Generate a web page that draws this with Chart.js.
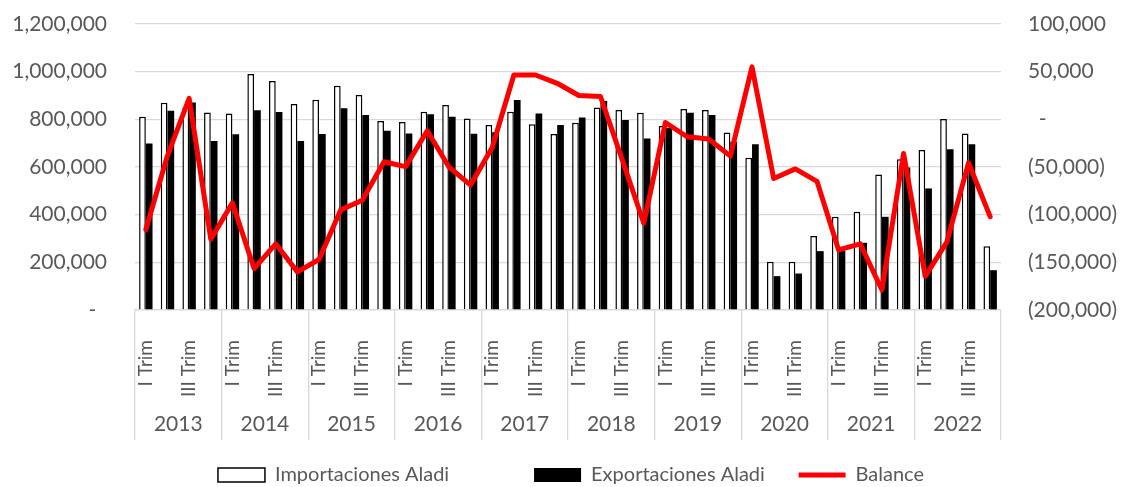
<!DOCTYPE html>
<html>
<head>
<meta charset="utf-8">
<script src="https://cdn.jsdelivr.net/npm/chart.js@4.4.1/dist/chart.umd.min.js"></script>
<style>
  body { margin: 0; background: #fff; }
  #wrap { width: 1122px; height: 487px; }
</style>
</head>
<body>
<div id="wrap"><canvas id="myChart"></canvas></div>
<script>
// años y trimestres
var years = ['2013', '2014', '2015', '2016', '2017', '2018', '2019', '2020', '2021', '2022']
var quarterNames = ['I Trim', 'II Trim', 'III Trim', 'IV Trim']

var importaciones = [
    811000, 870000, 850000, 829000,
    824000, 990000, 961000, 864000,
    882000, 941000, 902000, 793000,
    789000, 832000, 860000, 804000,
    776000, 832000, 779000, 738000,
    786000, 850000, 839000, 828000,
    772000, 843000, 839000, 745000,
    639000, 202000, 202000, 311000,
    391000, 412000, 569000, 633000,
    671000, 801000, 741000, 268000
]
var exportaciones = [
    699000, 836000, 871000, 709000,
    737000, 838000, 831000, 709000,
    738000, 846000, 818000, 752000,
    741000, 821000, 811000, 740000,
    746000, 881000, 825000, 776000,
    808000, 877000, 797000, 720000,
    765000, 828000, 818000, 706000,
    695000, 142000, 153000, 247000,
    250000, 282000, 391000, 598000,
    510000, 674000, 695000, 167000
]
var balance = [
    -115500, -38000, 22000, -125700,
    -87600, -156500, -130600, -160000,
    -147000, -95000, -84800, -44500,
    -49600, -12000, -50000, -69000,
    -29500, 46500, 46500, 37800,
    25000, 24000, -42000, -109000,
    -3300, -18300, -20700, -38600,
    55000, -62000, -52000, -65000,
    -137000, -130600, -179000, -35800,
    -164700, -128600, -45600, -102000
]

var labels = []
years.forEach(function (y) {
    quarterNames.forEach(function (q) { labels.push(q) })
})

var gris = '#595959'
var linea = '#d9d9d9'
var fuente = 'Lato'

function miles(v) {
    return Math.abs(v).toString().replace(/\B(?=(\d{3})+(?!\d))/g, ',')
}

var ctx = document.getElementById('myChart').getContext('2d')

var chart = new Chart(ctx, {
    type: 'bar',
    data: {
        labels: labels,
        datasets: [
            {
                label: 'Importaciones Aladi' + '\u00a0'.repeat(16),
                data: importaciones,
                backgroundColor: '#ffffff',
                borderColor: '#000000',
                borderWidth: 1.5,
                categoryPercentage: 0.62,
                barPercentage: 1.0,
                pointStyle: 'rect',
                yAxisID: 'y'
            },
            {
                label: 'Exportaciones Aladi' + '\u00a0'.repeat(6),
                data: exportaciones,
                backgroundColor: '#000000',
                borderColor: '#000000',
                borderWidth: 0,
                categoryPercentage: 0.62,
                barPercentage: 1.0,
                pointStyle: 'rect',
                yAxisID: 'y'
            },
            {
                type: 'line',
                label: 'Balance',
                data: balance,
                borderColor: '#ff0000',
                backgroundColor: '#ff0000',
                borderWidth: 5,
                borderCapStyle: 'round',
                borderJoinStyle: 'round',
                pointRadius: 0,
                pointStyle: 'line',
                tension: 0,
                order: -1,
                yAxisID: 'y1'
            }
        ]
    },
    options: {
        responsive: true,
        maintainAspectRatio: false,
        animation: false,
        layout: { padding: { top: 24, bottom: -8, left: 0, right: -20 } },
        plugins: {
            tooltip: { enabled: false },
            legend: {
                position: 'bottom',
                labels: {
                    usePointStyle: true,
                    pointStyleWidth: 47,
                    boxHeight: 14,
                    padding: 3,
                    color: gris,
                    font: { family: fuente, size: 20 },
                    sort: function (a, b) { return a.datasetIndex - b.datasetIndex }
                }
            }
        },
        scales: {
            x: {
                position: 'bottom',
                weight: 0,
                offset: true,
                grid: {
                    offset: true,
                    drawOnChartArea: false,
                    drawTicks: true,
                    tickLength: 130,
                    lineWidth: 1.3,
                    color: function (c) {
                        if (c.index === undefined || c.index % 4 === 0) return linea
                        return 'rgba(0,0,0,0)'
                    }
                },
                border: { display: true, color: linea, width: 1.3 },
                ticks: {
                    autoSkip: false,
                    maxRotation: 90,
                    minRotation: 90,
                    padding: -100,
                    color: gris,
                    font: { family: fuente, size: 19 },
                    callback: function (value, index) {
                        return index % 2 === 0 ? this.getLabelForValue(value) : ''
                    }
                },
                afterFit: function (scale) { scale.height = 95 }
            },
            x2: {
                type: 'category',
                position: 'bottom',
                weight: 1,
                labels: years,
                offset: true,
                grid: { display: false },
                border: { display: false },
                ticks: {
                    padding: -1,
                    color: gris,
                    font: { family: fuente, size: 21 }
                },
                afterFit: function (scale) { scale.height = 57 }
            },
            y: {
                position: 'left',
                min: 0,
                max: 1200000,
                grid: {
                    color: linea,
                    lineWidth: 1.3,
                    drawTicks: true,
                    tickLength: 28,
                    tickColor: 'rgba(0,0,0,0)'
                },
                border: { display: false },
                ticks: {
                    stepSize: 200000,
                    padding: 0,
                    color: gris,
                    font: { family: fuente, size: 21 },
                    callback: function (v) { return v === 0 ? '-\u00a0\u00a0' : miles(v) }
                },
                afterFit: function (scale) { scale.width = 135 }
            },
            y1: {
                position: 'right',
                min: -200000,
                max: 100000,
                grid: {
                    drawOnChartArea: false,
                    drawTicks: true,
                    tickLength: 27,
                    tickColor: 'rgba(0,0,0,0)'
                },
                border: { display: false },
                ticks: {
                    stepSize: 50000,
                    padding: 0,
                    color: gris,
                    font: { family: fuente, size: 21 },
                    callback: function (v) {
                        if (v === 0) return '\u00a0\u00a0-'
                        return v < 0 ? '(' + miles(v) + ')' : miles(v)
                    }
                },
                afterFit: function (scale) { scale.width = 141 }
            }
        }
    }
})
</script>
</body>
</html>
